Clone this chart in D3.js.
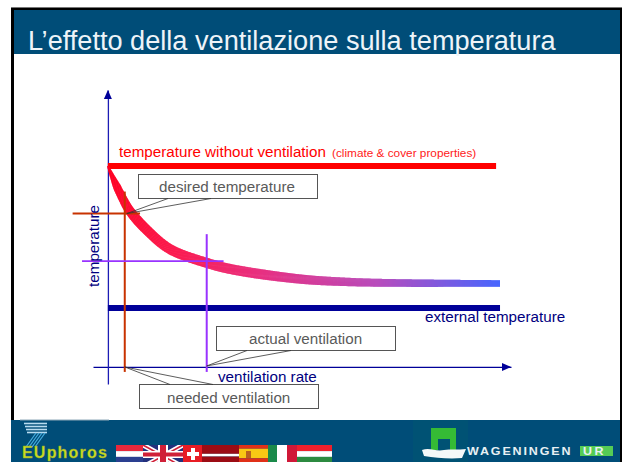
<!DOCTYPE html>
<html>
<head>
<meta charset="utf-8">
<script src="https://cdn.jsdelivr.net/npm/d3@7"></script>
<style>
  html, body { margin: 0; padding: 0; background: #fff; }
  svg { display: block; }
  text { font-family: "Liberation Sans", Arial, sans-serif; }
</style>
</head>
<body>
<div id="chart"></div>
<script>
// values (arbitrary units: ventilation 0-10, temperature 0 = external, 10 = no ventilation)
var curveVentilation = [0, 0.153, 0.332, 0.561, 1.02, 1.58, 2.53, 3.19, 4.9, 6.17, 7.45, 10];
var curveTemperature = [10, 9.01, 7.96, 6.83, 5.42, 4.15, 3.17, 2.71, 2.04, 1.83, 1.76, 1.73];

var tempWithout = 10;
var tempExternal = 0;
var desiredTemp = 6.65;
var neededVent = 0.43;
var actualTemp = 3.3;
var actualVent = 2.52;

var titleText = "L\u2019effetto della ventilazione sulla temperatura";
var withoutLabel = "temperature without ventilation";
var withoutNote = "(climate & cover properties)";
var yLabel = "temperature";
var xLabel = "ventilation rate";
var externalLabel = "external temperature";
var calloutLabels = ["desired temperature", "actual ventilation", "needed ventilation"];

var flagNames = ["nl", "uk", "ch", "lv", "es", "it", "hu"];

var width = 625, height = 462;
var bandColor = "#004d78";

var svg = d3.select("#chart").append("svg")
  .attr("width", width)
  .attr("height", height);

// scales
var x = d3.scaleLinear().domain([-0.38, 10.28]).range([93, 511]);
var y = d3.scaleLinear().domain([-5.35, 15.35]).range([384, 90]);

var axisColor = "#1c1cb4";
var defs = svg.append("defs");

// slide frame
svg.append("rect").attr("x", 11).attr("y", 7).attr("width", 611).attr("height", 2).attr("fill", "#777");
svg.append("rect").attr("x", 11).attr("y", 8).attr("width", 611).attr("height", 454).attr("fill", "#000");
svg.append("rect").attr("x", 14).attr("y", 10).attr("width", 606).attr("height", 452).attr("fill", "#fff");

// title band
svg.append("rect").attr("x", 14).attr("y", 10).attr("width", 606).attr("height", 44).attr("fill", bandColor);
svg.append("text")
  .attr("x", 28).attr("y", 50)
  .attr("font-size", 27.15)
  .attr("fill", "#eef4f8")
  .text(titleText);

// axes, no ticks
var xAxis = d3.axisBottom(x).tickValues([]).tickSizeOuter(0);
var yAxis = d3.axisLeft(y).tickValues([]).tickSizeOuter(0);

var gx = svg.append("g").attr("transform", "translate(0," + y(-4.15) + ")").call(xAxis);
var gy = svg.append("g").attr("transform", "translate(" + x(0) + ",0)").call(yAxis);
gx.select(".domain").attr("stroke", "#000099").attr("stroke-width", 1.3);
gy.select(".domain").attr("stroke", axisColor).attr("stroke-width", 1.3);

svg.append("path")
  .attr("d", d3.line()([[x(10.28), y(-4.15)], [x(10.28) - 9, y(-4.15) - 4], [x(10.28) - 9, y(-4.15) + 4]]) + "Z")
  .attr("fill", "#000099");
svg.append("path")
  .attr("d", d3.line()([[x(0), y(15.35)], [x(0) - 4, y(15.35) + 9], [x(0) + 4, y(15.35) + 9]]) + "Z")
  .attr("fill", "#000099");

// flat reference lines
svg.append("line")
  .attr("x1", x(0)).attr("x2", x(9.9))
  .attr("y1", y(tempWithout)).attr("y2", y(tempWithout))
  .attr("stroke", "#ff0000").attr("stroke-width", 6);
svg.append("line")
  .attr("x1", x(0)).attr("x2", x(10))
  .attr("y1", y(tempExternal)).attr("y2", y(tempExternal))
  .attr("stroke", "#000099").attr("stroke-width", 6);

// curve: tapered, colour runs red to blue
var curvePoints = curveVentilation.map(function(d, i){ return [x(d), y(curveTemperature[i])]; });
var curveLine = d3.line().curve(d3.curveCatmullRom.alpha(0.5));
var guide = svg.append("path").attr("d", curveLine(curvePoints)).attr("fill", "none").attr("stroke", "none");
var total = guide.node().getTotalLength();
var curveColor = d3.scaleLinear()
  .domain([0, 0.25, 0.45, 0.72, 1])
  .range(["#ff0020", "#fb1c50", "#e83080", "#b84cbc", "#4666ff"])
  .interpolate(d3.interpolateRgb);
var curveWidth = d3.scaleLinear()
  .domain([0, 0.05, 0.14, 0.45, 0.7, 1])
  .range([2, 8, 10, 10, 8, 6.5]);
var steps = d3.range(0, total, 1);
var g = svg.append("g");
steps.forEach(function(s){
  var a = guide.node().getPointAtLength(s);
  var b = guide.node().getPointAtLength(Math.min(s + 1.6, total));
  g.append("line")
    .attr("x1", a.x).attr("y1", a.y)
    .attr("x2", b.x).attr("y2", b.y)
    .attr("stroke", curveColor(s / total))
    .attr("stroke-width", curveWidth(s / total));
});
guide.remove();

// desired temperature / needed ventilation cross
var redCross = "#c83200";
svg.append("line")
  .attr("x1", x(-0.9)).attr("x2", x(0.82))
  .attr("y1", y(desiredTemp)).attr("y2", y(desiredTemp))
  .attr("stroke", redCross).attr("stroke-width", 2);
svg.append("line")
  .attr("x1", x(neededVent)).attr("x2", x(neededVent))
  .attr("y1", y(8.2)).attr("y2", y(-4.5))
  .attr("stroke", redCross).attr("stroke-width", 2);

// actual ventilation cross
var purpleCross = "#9933ff";
svg.append("line")
  .attr("x1", x(-0.66)).attr("x2", x(2.95))
  .attr("y1", y(actualTemp)).attr("y2", y(actualTemp))
  .attr("stroke", purpleCross).attr("stroke-width", 1.6);
svg.append("line")
  .attr("x1", x(actualVent)).attr("x2", x(actualVent))
  .attr("y1", y(5.2)).attr("y2", y(-4.5))
  .attr("stroke", purpleCross).attr("stroke-width", 2);

// curve and axis labels
var labelSize = 15.2;
svg.append("text").attr("x", 119).attr("y", 157).attr("font-size", labelSize).attr("fill", "#ff0000").text(withoutLabel);
svg.append("text").attr("x", 332).attr("y", 157).attr("font-size", 11.8).attr("fill", "#ff2020").text(withoutNote);
svg.append("text").attr("x", 425).attr("y", 322).attr("font-size", labelSize).attr("fill", "#000080").text(externalLabel);
svg.append("text").attr("x", 218).attr("y", 382).attr("font-size", labelSize).attr("fill", "#000080").text(xLabel);
svg.append("text")
  .attr("transform", "translate(99,246) rotate(-90)")
  .attr("text-anchor", "middle")
  .attr("font-size", labelSize)
  .attr("fill", "#000080")
  .text(yLabel);

// callouts
var calloutBox = [
  { x: 138.5, y: 174.5, w: 179, h: 24, tx: 159, ty: 192 },
  { x: 216.5, y: 326.5, w: 179, h: 24, tx: 249, ty: 344 },
  { x: 139.5, y: 384.5, w: 179, h: 24, tx: 167, ty: 403 }
];
var calloutTail = [
  [[168, 198.5], [x(neededVent) + 2, y(desiredTemp)], [211, 198.5]],
  [[247, 350.5], [x(actualVent), y(-4.15) - 1], [291, 350.5]],
  [[170, 384.5], [x(neededVent), y(-4.15)], [213, 384.5]]
];
calloutBox.forEach(function(b, i){
  svg.append("rect")
    .attr("x", b.x).attr("y", b.y).attr("width", b.w).attr("height", b.h)
    .attr("fill", "#fff").attr("stroke", "#555").attr("stroke-width", 1);
  svg.append("path")
    .attr("d", d3.line()(calloutTail[i]))
    .attr("fill", "none").attr("stroke", "#333").attr("stroke-width", 0.8);
  svg.append("text")
    .attr("x", b.tx).attr("y", b.ty)
    .attr("font-size", labelSize)
    .attr("fill", "#5a5a5a")
    .text(calloutLabels[i]);
});

// footer
svg.append("rect").attr("x", 11).attr("y", 420).attr("width", 609).attr("height", 42).attr("fill", bandColor);
svg.append("line").attr("x1", 20).attr("x2", 109).attr("y1", 420).attr("y2", 420).attr("stroke", "#8fa9b8");

// EUphoros logo
var logo = svg.append("g");
[423, 426, 429, 432].forEach(function(ly, i){
  logo.append("line")
    .attr("x1", 24 + i).attr("x2", 47)
    .attr("y1", ly + 0.5).attr("y2", ly + 0.5)
    .attr("stroke", "#b8dcf0").attr("stroke-width", 1.6);
});
[0, 3, 6, 9].forEach(function(o){
  logo.append("line")
    .attr("x1", 36 + o).attr("y1", 433)
    .attr("x2", 26 + o).attr("y2", 447)
    .attr("stroke", "#46aee0").attr("stroke-width", 1.2);
});
logo.append("text")
  .attr("x", 22).attr("y", 458)
  .attr("font-size", 16).attr("font-weight", "bold")
  .attr("letter-spacing", 1.2)
  .attr("fill", "#c8dc20")
  .attr("stroke", "#8fa030").attr("stroke-width", 0.3)
  .text("EUphoros");

// flags
var flags = {
  nl: { x: 116, w: 27 },
  uk: { x: 143, w: 40 },
  ch: { x: 183, w: 19 },
  lv: { x: 202, w: 37 },
  es: { x: 239, w: 29 },
  it: { x: 268, w: 29 },
  hu: { x: 297, w: 35 }
};
var flagTop = 445, flagH = 17;
function stripes(f, colors){
  colors.forEach(function(c, i){
    svg.append("rect")
      .attr("x", f.x).attr("y", flagTop + flagH * c[1])
      .attr("width", f.w).attr("height", flagH * c[2])
      .attr("fill", c[0]);
  });
}
function flagDraw(name){
  var f = flags[name];
  if(name == "nl") stripes(f, [["#e8283c", 0, 0.36], ["#ffffff", 0.36, 0.34], ["#2a3f90", 0.7, 0.3]]);
  if(name == "hu") stripes(f, [["#f0202c", 0, 0.36], ["#ffffff", 0.36, 0.34], ["#2c8a40", 0.7, 0.3]]);
  if(name == "lv") stripes(f, [["#9c0c14", 0, 0.52], ["#ffffff", 0.52, 0.16], ["#9c0c14", 0.68, 0.32]]);
  if(name == "es"){
    stripes(f, [["#e03018", 0, 0.22], ["#f8c814", 0.22, 0.56], ["#e03018", 0.78, 0.22]]);
    svg.append("rect").attr("x", f.x + 7).attr("y", flagTop + 6).attr("width", 5).attr("height", 7).attr("fill", "#b86020");
  }
  if(name == "it"){
    svg.append("rect").attr("x", f.x).attr("y", flagTop).attr("width", 9).attr("height", flagH).attr("fill", "#1a8a4a");
    svg.append("rect").attr("x", f.x + 9).attr("y", flagTop).attr("width", 10).attr("height", flagH).attr("fill", "#ffffff");
    svg.append("rect").attr("x", f.x + 19).attr("y", flagTop).attr("width", 10).attr("height", flagH).attr("fill", "#d01838");
  }
  if(name == "ch"){
    svg.append("rect").attr("x", f.x).attr("y", flagTop).attr("width", f.w).attr("height", flagH).attr("fill", "#e81c24");
    svg.append("rect").attr("x", f.x + 8).attr("y", flagTop + 3).attr("width", 4).attr("height", 12).attr("fill", "#fff");
    svg.append("rect").attr("x", f.x + 4).attr("y", flagTop + 7).attr("width", 12).attr("height", 4).attr("fill", "#fff");
  }
  if(name == "uk"){
    var clipId = "ukClip";
    defs.append("clipPath").attr("id", clipId).append("rect")
      .attr("x", f.x).attr("y", flagTop).attr("width", f.w).attr("height", flagH);
    var u = svg.append("g").attr("clip-path", "url(#" + clipId + ")");
    u.append("rect").attr("x", f.x).attr("y", flagTop).attr("width", f.w).attr("height", flagH).attr("fill", "#23307c");
    var diag = [[f.x, flagTop, f.x + f.w, flagTop + 22], [f.x + f.w, flagTop, f.x, flagTop + 22]];
    diag.forEach(function(d){
      u.append("line").attr("x1", d[0]).attr("y1", d[1]).attr("x2", d[2]).attr("y2", d[3]).attr("stroke", "#fff").attr("stroke-width", 5);
      u.append("line").attr("x1", d[0]).attr("y1", d[1]).attr("x2", d[2]).attr("y2", d[3]).attr("stroke", "#d02038").attr("stroke-width", 1.6);
    });
    u.append("rect").attr("x", f.x + 15).attr("y", flagTop).attr("width", 10).attr("height", flagH).attr("fill", "#fff");
    u.append("rect").attr("x", f.x).attr("y", flagTop + 6).attr("width", f.w).attr("height", 7).attr("fill", "#fff");
    u.append("rect").attr("x", f.x + 17).attr("y", flagTop).attr("width", 6).attr("height", flagH).attr("fill", "#d02038");
    u.append("rect").attr("x", f.x).attr("y", flagTop + 7.5).attr("width", f.w).attr("height", 4).attr("fill", "#d02038");
  }
}
flagNames.forEach(flagDraw);

// Wageningen logo
svg.append("rect").attr("x", 413).attr("y", 420).attr("width", 55).attr("height", 42).attr("fill", "#005274");
svg.append("path")
  .attr("d", "M431,428H456V450H450V439H438V450H431Z")
  .attr("fill", "#35bb35");
svg.append("path")
  .attr("d", "M422,450C430,447 436,452 444,450C450,449 458,450 466,449L462,458C450,459 436,458 424,456Z")
  .attr("fill", "#f4f8f8");
svg.append("text")
  .attr("transform", "translate(467,455) scale(1.25,1)")
  .attr("font-size", 10).attr("font-weight", "bold")
  .attr("letter-spacing", 1.5)
  .attr("fill", "#e8f0f4")
  .text("WAGENINGEN");
svg.append("rect").attr("x", 580).attr("y", 446).attr("width", 33).attr("height", 10).attr("fill", "#55cc55");
svg.append("text")
  .attr("transform", "translate(583,455) scale(1.25,1)")
  .attr("font-size", 10).attr("font-weight", "bold")
  .attr("letter-spacing", 2)
  .attr("fill", "#e8f0f4")
  .text("UR");
</script>
</body>
</html>
